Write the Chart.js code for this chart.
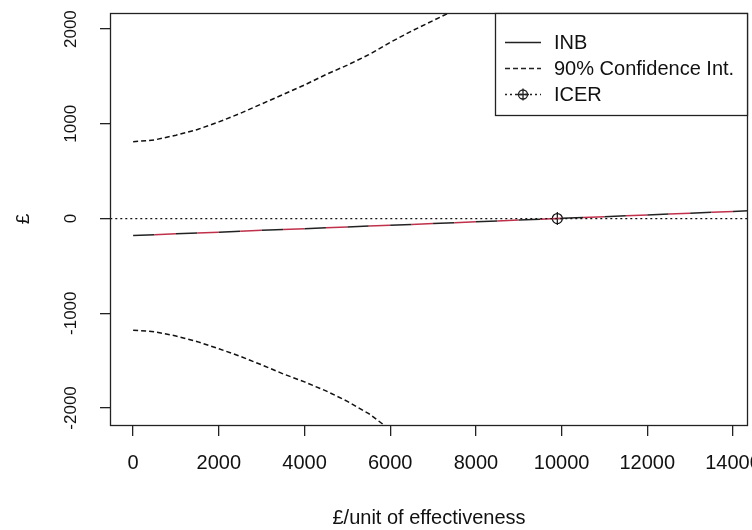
<!DOCTYPE html>
<html>
<head>
<meta charset="utf-8">
<script src="https://cdn.jsdelivr.net/npm/chart.js@4.4.1/dist/chart.umd.min.js"></script>
<style>
html,body{margin:0;padding:0;background:#fff;}
#wrap{width:752px;height:530px;}
</style>
</head>
<body>
<div id="wrap"><canvas id="c" width="752" height="530"></canvas></div>
<script>
// ---- data ----
const lambdaGrid = [0,500,1000,1500,2000,2500,3000,3500,4000,4500,5000,5500,6000,6500,7000,7500,8000,8500,9000,9500,10000,10500,11000,11500,12000,12500,13000,13500,14000,14500];
const inbValues = [-180,-171,-162,-153,-144,-135,-125,-116,-107,-98,-89,-80,-71,-62,-53,-44,-35,-25,-16,-7,2,11,20,29,38,47,56,65,75,84];
const upperLambda = [0,500,1000,1500,2000,2500,3000,3500,4000,4500,5000,5500,6000,6500,7000,7500,8000];
const upperCI = [810,830,880,940,1020,1110,1210,1310,1410,1520,1620,1730,1860,1980,2090,2200,2310];
const lowerLambda = [0,500,1000,1500,2000,2500,3000,3500,4000,4500,5000,5500,6000];
const lowerCI = [-1179,-1195,-1240,-1300,-1375,-1455,-1545,-1640,-1725,-1820,-1930,-2060,-2230];
const icerLambda = [9900];
const icerValue = [0];
const xTickValues = [0,2000,4000,6000,8000,10000,12000,14000];
const yTickValues = [-2000,-1000,0,1000,2000];
const legendLabels = ['INB','90% Confidence Int.','ICER'];
const xTitle = '£/unit of effectiveness';
const yTitle = '£';

const FONT = 'Liberation Sans, Arial, sans-serif';
const pts = (xs, ys) => xs.map((x,i)=>({x:x, y:ys[i]}));

const boxPlugin = {
  id:'box',
  afterDraw(chart){
    const {ctx, chartArea:a} = chart;
    ctx.save();
    ctx.strokeStyle = '#222';
    ctx.lineWidth = 1.3;
    ctx.strokeRect(a.left+0.5, a.top+0.5, a.right-a.left-1, a.bottom-a.top);
    // legend
    const lx = 495.5, ly = 13.5, lw = 252, lh = 102;
    ctx.fillStyle = '#fff';
    ctx.fillRect(lx, ly, lw, lh);
    ctx.strokeRect(lx, ly, lw, lh);
    const rows = [42, 68, 94];
    const dashes = [[], [5,3], [2,3]];
    ctx.lineWidth = 1.3;
    rows.forEach((y,i)=>{
      ctx.setLineDash(dashes[i]);
      ctx.beginPath(); ctx.moveTo(505, y+0.5); ctx.lineTo(541, y+0.5); ctx.stroke();
    });
    ctx.setLineDash([]);
    ctx.beginPath(); ctx.arc(523, 94.5, 4.5, 0, Math.PI*2); ctx.stroke();
    ctx.beginPath(); ctx.moveTo(517, 94.5); ctx.lineTo(529, 94.5); ctx.moveTo(523, 88.5); ctx.lineTo(523, 100.5); ctx.stroke();
    ctx.fillStyle = '#111';
    ctx.font = '20px ' + FONT;
    ctx.textBaseline = 'middle';
    ctx.textAlign = 'left';
    legendLabels.forEach((t,i)=> ctx.fillText(t, 554, rows[i]+1));
    ctx.restore();
  }
};

new Chart(document.getElementById('c'), {
  type:'scatter',
  data:{
    datasets:[
      {label:'zero', data: pts([-1000,15000],[0,0]), showLine:true, borderColor:'#111', borderWidth:1.3, borderDash:[2,3], pointRadius:0},
      {label:legendLabels[0], data: pts(lambdaGrid, inbValues), showLine:true, borderWidth:1.5, pointRadius:0,
        borderColor:'#222',
        segment:{borderColor: c => (c.p0DataIndex % 2 === 0 ? '#222' : '#c0304a')}},
      {label:'upper', data: pts(upperLambda, upperCI), showLine:true, borderColor:'#111', borderWidth:1.5, borderDash:[5,3], pointRadius:0},
      {label:'lower', data: pts(lowerLambda, lowerCI), showLine:true, borderColor:'#111', borderWidth:1.5, borderDash:[5,3], pointRadius:0},
      {label:legendLabels[2], data: pts(icerLambda, icerValue), showLine:false, pointStyle:'circle', pointRadius:5, borderColor:'#111', borderWidth:1.2, backgroundColor:'rgba(0,0,0,0)'},
      {label:'icer2', data: pts(icerLambda, icerValue), showLine:false, pointStyle:'cross', pointRadius:6.5, borderColor:'#111', borderWidth:1.2}
    ]
  },
  options:{
    responsive:false,
    animation:false,
    devicePixelRatio:1,
    layout:{autoPadding:false, padding:{left:0,right:4,top:13,bottom:0}},
    plugins:{legend:{display:false}, tooltip:{enabled:false}},
    scales:{
      x:{
        type:'linear', min:-540, max:14350,
        afterBuildTicks: s => { s.ticks = xTickValues.map(v=>({value:v})); },
        afterFit: s => { s.height = 105; s.paddingLeft = 0; s.paddingRight = 0; },
        grid:{display:true, drawOnChartArea:false, drawTicks:true, tickLength:11, color:'#222', lineWidth:1.3},
        border:{display:false},
        ticks:{font:{family:FONT, size:20}, color:'#111', padding:15, maxRotation:0, minRotation:0, autoSkip:false,
          callback: v => String(v)},
        title:{display:true, text:xTitle, font:{family:FONT, size:20}, color:'#111', padding:{top:8, bottom:0}}
      },
      y:{
        type:'linear', min:-2180, max:2170,
        afterBuildTicks: s => { s.ticks = yTickValues.map(v=>({value:v})); },
        afterFit: s => { s.width = 110; s.paddingTop = 0; s.paddingBottom = 0; },
        grid:{display:true, drawOnChartArea:false, drawTicks:true, tickLength:10, color:'#222', lineWidth:1.3},
        border:{display:false},
        ticks:{font:{family:FONT, size:17}, color:'#111', padding:7, minRotation:90, maxRotation:90, crossAlign:'center', autoSkip:false,
          callback: v => String(v)},
        title:{display:true, text:yTitle, font:{family:FONT, size:19}, color:'#111', padding:{top:12,bottom:0}}
      }
    }
  },
  plugins:[boxPlugin]
});
</script>
</body>
</html>
